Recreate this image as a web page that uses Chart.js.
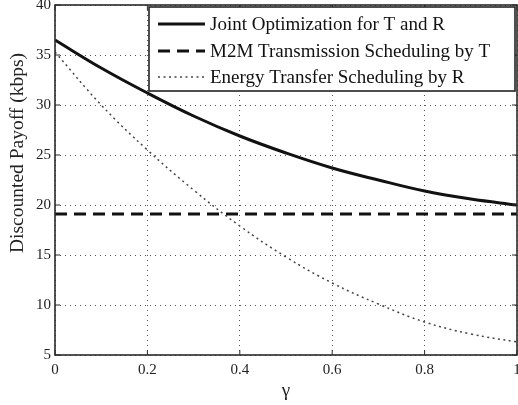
<!DOCTYPE html>
<html>
<head>
<meta charset="utf-8">
<script src="https://cdn.jsdelivr.net/npm/chart.js@4.4.0/dist/chart.umd.min.js"></script>
<style>
html,body{margin:0;padding:0;background:#fff;}
#wrap{width:518px;height:405px;position:relative;}
</style>
</head>
<body>
<div id="wrap"><canvas id="c" width="518" height="405"></canvas></div>
<script>
const gammas = [0, 0.1, 0.2, 0.3, 0.4, 0.5, 0.6, 0.7, 0.8, 0.9, 1.0];
const jointOpt = [36.5, 33.7, 31.2, 28.9, 26.9, 25.2, 23.7, 22.5, 21.4, 20.6, 20.0];
const m2mSched = [19.1, 19.1, 19.1, 19.1, 19.1, 19.1, 19.1, 19.1, 19.1, 19.1, 19.1];
const energySched = [35.3, 30.0, 25.5, 21.5, 17.9, 14.8, 12.2, 10.1, 8.3, 7.1, 6.3];
const seriesLabels = ['Joint Optimization for T and R', 'M2M Transmission Scheduling by T', 'Energy Transfer Scheduling by R'];
const xTicks = [0, 0.2, 0.4, 0.6, 0.8, 1];
const yTicks = [5, 10, 15, 20, 25, 30, 35, 40];
const yTitle = 'Discounted Payoff (kbps)';
const xTitle = 'γ';

const SERIF = '"Liberation Serif", "Times New Roman", serif';
const toXY = arr => gammas.map((g, i) => ({x: g, y: arr[i]}));

const frameAndLegend = {
  id: 'frameAndLegend',
  afterDatasetsDraw(chart) {
    const {ctx, chartArea: a, scales} = chart;
    ctx.save();
    // frame
    ctx.strokeStyle = '#2a2a2a';
    ctx.lineWidth = 1.6;
    ctx.setLineDash([]);
    ctx.strokeRect(a.left, a.top, a.right - a.left, a.bottom - a.top);
    // inward ticks
    ctx.lineWidth = 1;
    const tl = 5;
    xTicks.forEach(v => {
      const px = scales.x.getPixelForValue(v);
      ctx.beginPath();
      ctx.moveTo(px, a.bottom); ctx.lineTo(px, a.bottom - tl);
      ctx.moveTo(px, a.top); ctx.lineTo(px, a.top + tl);
      ctx.stroke();
    });
    yTicks.forEach(v => {
      const py = scales.y.getPixelForValue(v);
      ctx.beginPath();
      ctx.moveTo(a.left, py); ctx.lineTo(a.left + tl, py);
      ctx.moveTo(a.right, py); ctx.lineTo(a.right - tl, py);
      ctx.stroke();
    });
    // y-axis title (rotated)
    ctx.save();
    ctx.translate(23, 153);
    ctx.rotate(-Math.PI / 2);
    ctx.fillStyle = '#222';
    ctx.font = '19.5px ' + SERIF;
    ctx.textAlign = 'center';
    ctx.textBaseline = 'alphabetic';
    ctx.fillText(yTitle, 0, 0);
    ctx.restore();
    // legend
    const bx = 149, by = 7, bw = 366, bh = 84;
    ctx.fillStyle = '#fff';
    ctx.fillRect(bx, by, bw, bh);
    ctx.strokeStyle = '#222';
    ctx.lineWidth = 1.6;
    ctx.strokeRect(bx, by, bw, bh);
    const rows = [24, 51, 77];
    chart.data.datasets.forEach((ds, i) => {
      const y = rows[i];
      ctx.strokeStyle = ds.borderColor;
      ctx.lineWidth = ds.borderWidth;
      ctx.setLineDash(ds.borderDash || []);
      ctx.beginPath();
      ctx.moveTo(158, y); ctx.lineTo(205, y);
      ctx.stroke();
      ctx.setLineDash([]);
      ctx.fillStyle = '#111';
      ctx.font = '19px ' + SERIF;
      ctx.textBaseline = 'middle';
      ctx.textAlign = 'left';
      ctx.fillText(ds.label, 210, y + 1);
    });
    ctx.restore();
  }
};

new Chart(document.getElementById('c'), {
  type: 'line',
  data: {
    datasets: [
      {label: seriesLabels[0], data: toXY(jointOpt), borderColor: '#111', borderWidth: 3, pointRadius: 0, tension: 0.4, fill: false},
      {label: seriesLabels[1], data: toXY(m2mSched), borderColor: '#111', borderWidth: 3, borderDash: [12, 7], pointRadius: 0, tension: 0, fill: false},
      {label: seriesLabels[2], data: toXY(energySched), borderColor: '#444', borderWidth: 1.5, borderDash: [2, 3.5], pointRadius: 0, tension: 0.4, fill: false}
    ]
  },
  options: {
    responsive: false,
    animation: false,
    devicePixelRatio: 1,
    layout: {padding: {top: 5, right: 1, left: 0, bottom: 0}},
    plugins: {legend: {display: false}, tooltip: {enabled: false}},
    scales: {
      x: {
        type: 'linear', min: 0, max: 1,
        afterBuildTicks: s => { s.ticks = xTicks.map(v => ({value: v})); },
        afterFit: s => { s.height = 50; s.paddingLeft = 0; s.paddingRight = 0; },
        ticks: {font: {family: SERIF, size: 15}, color: '#222', padding: 6, maxRotation: 0,
          callback: v => String(v)},
        grid: {color: '#555', lineWidth: 1, drawTicks: false},
        border: {display: false, dash: [1, 4]},
        title: {display: true, text: xTitle, font: {family: SERIF, size: 19}, color: '#222', padding: {top: 0, bottom: 3}}
      },
      y: {
        type: 'linear', min: 5, max: 40,
        afterBuildTicks: s => { s.ticks = yTicks.map(v => ({value: v})); },
        afterFit: s => { s.width = 55; s.paddingTop = 0; s.paddingBottom = 0; },
        ticks: {font: {family: SERIF, size: 15}, color: '#222', padding: 4,
          callback: v => String(v)},
        grid: {color: '#555', lineWidth: 1, drawTicks: false},
        border: {display: false, dash: [1, 4]},
        title: {display: false}
      }
    }
  },
  plugins: [frameAndLegend]
});
</script>
</body>
</html>
